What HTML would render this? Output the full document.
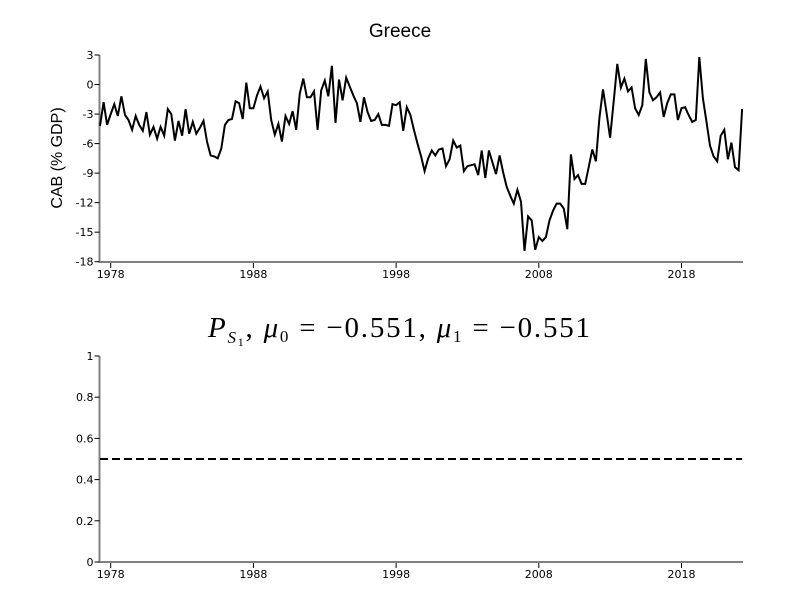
<!DOCTYPE html>
<html><head><meta charset="utf-8"><style>
body{margin:0;background:#fff;width:800px;height:600px;overflow:hidden}
svg text{font-family:"DejaVu Sans","Liberation Sans",sans-serif}
</style></head><body>
<svg id="chart" width="800" height="600" xmlns="http://www.w3.org/2000/svg">
<text x="400" y="37" text-anchor="middle" font-size="19" style="font-family:'Liberation Sans',sans-serif">Greece</text>
<text transform="translate(62,158) rotate(-90)" text-anchor="middle" font-size="16" style="font-family:'Liberation Sans',sans-serif">CAB (% GDP)</text>
<text x="208" y="337" textLength="382" lengthAdjust="spacing" font-size="29" style="font-family:'Liberation Serif',serif"><tspan font-style="italic">P</tspan><tspan font-style="italic" font-size="17" dy="6">S</tspan><tspan font-size="12" dy="3">1</tspan><tspan dy="-9">, </tspan><tspan font-style="italic">μ</tspan><tspan font-size="17" dy="5">0</tspan><tspan dy="-5"> = −0.551, </tspan><tspan font-style="italic">μ</tspan><tspan font-size="17" dy="5">1</tspan><tspan dy="-5"> = −0.551</tspan></text>
<g id="top"></g><g id="bot"></g>
</svg>
<script>
const startYear = 1977.25;
const cab = [-4.2,-1.8,-4.1,-3.0,-2.0,-3.2,-1.2,-3.1,-3.6,-4.6,-3.2,-4.1,-4.7,-2.8,-5.1,-4.3,-5.5,-4.3,-5.2,-2.5,-3.0,-5.7,-3.7,-5.2,-2.5,-5.0,-3.8,-5.0,-4.4,-3.7,-5.8,-7.2,-7.3,-7.5,-6.5,-4.1,-3.6,-3.5,-1.7,-1.9,-3.5,0.2,-2.4,-2.4,-1.1,-0.2,-1.4,-0.7,-3.6,-5.1,-4.0,-5.8,-3.2,-4.0,-2.7,-4.6,-0.9,0.6,-1.3,-1.3,-0.7,-4.6,
-0.6,0.4,-1.2,1.9,-3.9,0.5,-1.6,0.7,-0.2,-1.1,-1.9,-3.8,-1.3,-2.8,-3.7,-3.6,-3.0,-4.1,-4.1,-4.2,-2.0,-2.1,-1.8,-4.7,-2.3,-3.1,-4.6,-6.0,-7.3,-8.8,-7.5,-6.7,-7.2,-6.6,-6.5,-8.3,-7.6,-5.7,-6.4,-6.2,-8.8,-8.3,-8.2,-8.1,-9.2,-6.7,-9.5,-6.7,-7.9,-9.1,-7.2,-8.9,-10.4,-11.3,-12.1,-10.7,-11.9,-16.9,-13.4,-13.8,-16.8,-15.5,
-15.9,-15.5,-13.8,-12.8,-12.1,-12.1,-12.6,-14.7,-7.1,-9.6,-9.2,-10.1,-10.1,-8.4,-6.6,-7.8,-3.4,-0.5,-2.9,-5.4,-1.7,2.1,-0.3,0.6,-0.7,-0.3,-2.4,-3.1,-2.1,2.6,-0.8,-1.6,-1.3,-0.8,-3.3,-1.9,-1.0,-1.0,-3.6,-2.4,-2.3,-3.1,-3.8,-3.6,2.8,-1.4,-3.8,-6.2,-7.3,-7.8,-5.2,-4.6,-7.6,-5.9,-8.4,-8.7,-2.5];
const prob = [0.5, 0.5];
const xTicks = [1978,1988,1998,2008,2018];
const yTicksTop = [3,0,-3,-6,-9,-12,-15,-18];
const yTicksBot = [0,0.2,0.4,0.6,0.8,1];
const NS='http://www.w3.org/2000/svg';
const X0=99.5, X1=743;
const xs = y => 110.7 + (y-1978)*14.27;
const endYear = startYear + (cab.length-1)*0.25;
function mk(p,t,a){const e=document.createElementNS(NS,t);for(const k in a)e.setAttribute(k,a[k]);p.appendChild(e);return e;}
function axes(g,top,bot,ticks,fy,fmt,pre){
  const ax=mk(g,'path',{d:`M${X0},${top}V${bot}H${X1}`,fill:'none',stroke:'#808080','stroke-width':2});
  
  
  ticks.forEach(v=>{const y=fy(v);
    mk(g,'line',{x1:X0-5,x2:X0,y1:y,y2:y,stroke:'#000'});
    const t=mk(g,'text',{x:X0-6,y:y+4,'text-anchor':'end','font-size':11});t.textContent=fmt(v);
    
    
  });
  xTicks.forEach(v=>{const x=xs(v);
    mk(g,'line',{x1:x,x2:x,y1:bot+1,y2:bot+6,stroke:'#000'});
    const t=mk(g,'text',{x:x,y:bot+16,'text-anchor':'middle','font-size':11});t.textContent=v;
    
    
  });
}
const gt=document.getElementById('top'), gb=document.getElementById('bot');
const yT = v => 55 + (3-v)*(261.7-55)/21;
const yB = v => 562 - v*206;
axes(gt,55,262,yTicksTop,yT,v=>String(v),'top-');
axes(gb,356,562,yTicksBot,yB,v=>String(v),'bottom-');
const pts=cab.map((v,i)=>xs(startYear+i*0.25).toFixed(1)+','+yT(v).toFixed(1)).join(' ');
const line=mk(gt,'polyline',{points:pts,fill:'none',stroke:'#000','stroke-width':2,'stroke-linejoin':'miter'});


const dl=mk(gb,'line',{x1:xs(startYear),x2:xs(endYear),y1:yB(prob[0]),y2:yB(prob[1]),stroke:'#000','stroke-width':2,'stroke-dasharray':'8,4'});


</script>
</body></html>
